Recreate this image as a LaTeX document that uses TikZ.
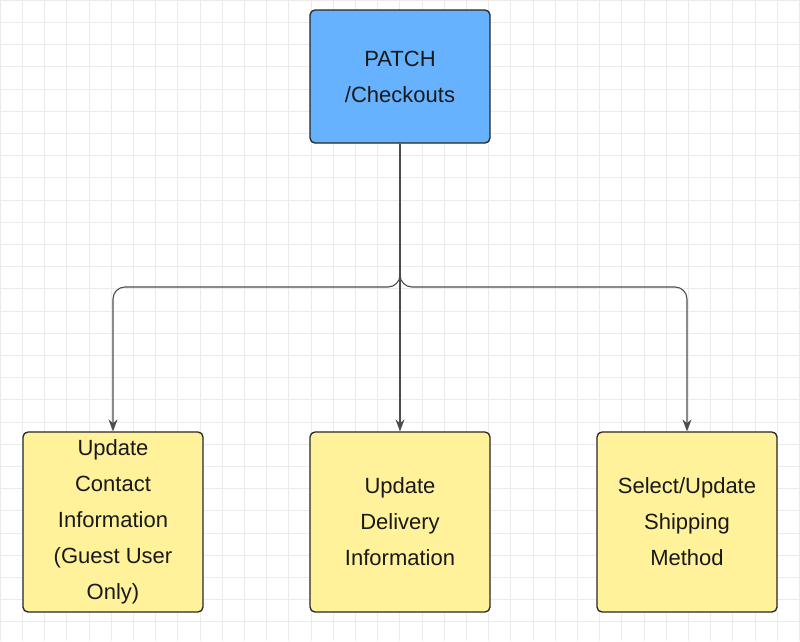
\documentclass[tikz,border=0pt]{standalone}
\usepackage{fontspec}
\setmainfont{Liberation Sans}
\usetikzlibrary{arrows.meta}
\begin{document}
\begin{tikzpicture}[x=1pt,y=-1pt,
  box/.style={draw=black!85,line width=1.3pt,rounded corners=5pt,minimum width=180pt,align=center,font=\fontsize{22}{36}\selectfont,text=black!90},
  conn/.style={draw=black!70,line width=1.1pt,rounded corners=12pt,-{Stealth[length=12pt,width=9pt]}}]
\fill[white] (0,0) rectangle (800,641);
\useasboundingbox (0,0) rectangle (800,641);
\foreach \i in {0,...,36} {\draw[black!8,line width=0.6pt] (\i*22.2,0) -- (\i*22.2,641);}
\foreach \i in {0,...,29} {\draw[black!8,line width=0.6pt] (0,\i*22.2) -- (800,\i*22.2);}
\node[box,fill={rgb,255:red,102;green,178;blue,255},minimum height=133pt] (top) at (400,76.5) {PATCH\\/Checkouts};
\node[box,fill={rgb,255:red,255;green,242;blue,155},minimum height=180pt] (a) at (113,522) {Update\\Contact\\Information\\(Guest User\\Only)};
\node[box,fill={rgb,255:red,255;green,242;blue,155},minimum height=180pt] (b) at (400,522) {Update\\Delivery\\Information};
\node[box,fill={rgb,255:red,255;green,242;blue,155},minimum height=180pt] (c) at (687,522) {Select/Update\\Shipping\\Method};
\coordinate (j) at (400,287);
\draw[conn] (top.south) -- (j) -- (113,287) -- (a.north);
\draw[conn] (top.south) -- (j) -- (687,287) -- (c.north);
\draw[conn] (top.south) -- (b.north);
\end{tikzpicture}
\end{document}
